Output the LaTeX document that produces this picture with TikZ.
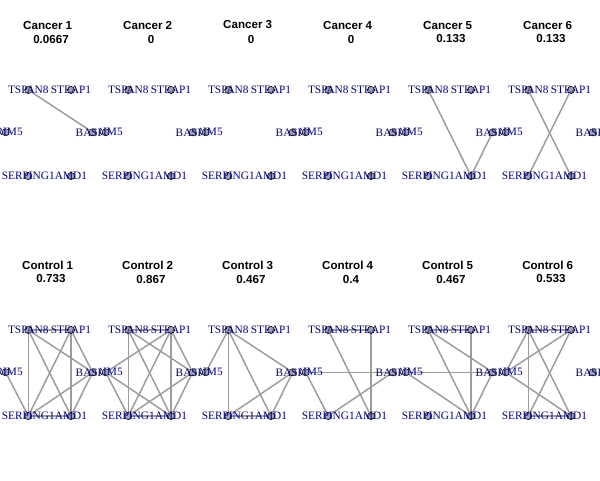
\documentclass[tikz,border=0pt]{standalone}
\usepackage{fontspec}
\setmainfont{Liberation Serif}
\newfontfamily\titlefont{Liberation Sans}
\definecolor{edgegrey}{HTML}{9C9C9C}
\definecolor{vtxgrey}{HTML}{A4A4A4}
\definecolor{lblblue}{HTML}{00008B}
\tikzset{
  vtx/.style={circle, fill=vtxgrey, draw=black, line width=0.4pt, minimum size=5.4pt, inner sep=0pt},
  edge/.style={draw=edgegrey, line width=1.1pt},
  lbl/.style={inner sep=0pt, text=lblblue, font=\fontsize{8.5}{10}\selectfont},
  titletext/.style={inner sep=0pt, font=\titlefont\bfseries\fontsize{8.7}{10}\selectfont},
}
% one co-expression panel: #1 prefix, #2/#3 offset, #4 title, #5 density, #6 edge list
\newcommand\genepanel[6]{%
\begin{scope}[shift={(#2,#3)}]
  \node[titletext] (#1-title) at (47.7,25) {#4};
  \node[titletext] (#1-value) at (51,39) {#5};
  \begin{scope}
    \clip (0,0) rectangle (100,240);
    \node[vtx] (#1-T) at (28.3,90) {};
    \node[vtx] (#1-S) at (71,90) {};
    \node[vtx] (#1-R) at (5.7,132.3) {};
    \node[vtx] (#1-B) at (92.7,132.3) {};
    \node[vtx] (#1-G) at (28.3,176) {};
    \node[vtx] (#1-A) at (71,176) {};
    \foreach \a/\b in {#6} {\draw[edge] (#1-\a) -- (#1-\b);}
    \node[lbl] (#1-Tl) at (#1-T) {TSPAN8};
    \node[lbl] (#1-Sl) at (#1-S) {STEAP1};
    \node[lbl] (#1-Rl) at (#1-R) {TRIM5};
    \node[lbl] (#1-Bl) at (#1-B) {BASP1};
    \node[lbl] (#1-Gl) at (#1-G) {SERPING1};
    \node[lbl] (#1-Al) at (#1-A) {AMD1};
  \end{scope}
\end{scope}}
\begin{document}
\begin{tikzpicture}[x=0.75pt,y=-0.75pt]
  \useasboundingbox[fill=white] (0,0) rectangle (600,480);
  \genepanel{ca1}{0}{0}{Cancer 1}{0.0667}{T/B}
  \genepanel{ca2}{100}{0}{Cancer 2}{0}{}
  \genepanel{ca3}{200}{0}{Cancer 3}{0}{}
  \genepanel{ca4}{300}{0}{Cancer 4}{0}{}
  \genepanel{ca5}{400}{0}{Cancer 5}{0.133}{T/A, B/A}
  \genepanel{ca6}{500}{0}{Cancer 6}{0.133}{T/A, S/G}
  \genepanel{co1}{0}{240}{Control 1}{0.733}{T/S, T/G, T/A, T/B, S/G, S/A, S/B, R/G, B/G, B/A, G/A}
  \genepanel{co2}{100}{240}{Control 2}{0.867}{T/S, T/G, T/A, T/B, S/R, S/G, S/A, S/B, R/G, R/A, B/G, B/A, G/A}
  \genepanel{co3}{200}{240}{Control 3}{0.467}{T/R, T/G, T/A, T/B, B/G, B/A, G/A}
  \genepanel{co4}{300}{240}{Control 4}{0.4}{T/S, T/A, S/A, R/B, R/G, B/G}
  \genepanel{co5}{400}{240}{Control 5}{0.467}{T/S, T/A, T/B, S/A, R/B, R/A, B/A}
  \genepanel{co6}{500}{240}{Control 6}{0.533}{T/S, T/R, T/G, T/A, S/R, S/G, R/A, G/A}
\end{tikzpicture}
\end{document}
